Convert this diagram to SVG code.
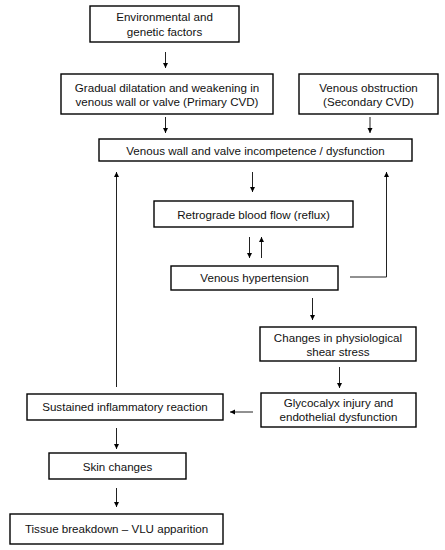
<svg xmlns="http://www.w3.org/2000/svg" width="445" height="550" viewBox="0 0 445 550">
<style>
.box{fill:#fff;stroke:#000;stroke-width:1.4}
.t{font-family:"Liberation Sans",Arial,sans-serif;font-size:11.6px;fill:#111;text-anchor:middle}
.c{fill:none;stroke:#222;stroke-width:1}
</style>
<defs>
<marker id="ah" viewBox="0 0 10 10" refX="10" refY="5" markerWidth="5" markerHeight="7" orient="auto" markerUnits="userSpaceOnUse">
<path d="M0,0 L10,5 L0,10 z" fill="#000"/>
</marker>
</defs>
<rect width="445" height="550" fill="#fff"/>
<g id="connectors">
<line class="c" x1="165.5" y1="52" x2="165.5" y2="68" marker-end="url(#ah)"/>
<line class="c" x1="165.5" y1="117" x2="165.5" y2="133" marker-end="url(#ah)"/>
<line class="c" x1="370" y1="117" x2="370" y2="133" marker-end="url(#ah)"/>
<line class="c" x1="252.5" y1="172" x2="252.5" y2="192" marker-end="url(#ah)"/>
<line class="c" x1="249.5" y1="237" x2="249.5" y2="258" marker-end="url(#ah)"/>
<line class="c" x1="261.5" y1="258" x2="261.5" y2="237" marker-end="url(#ah)"/>
<polyline class="c" points="350,277 386.5,277 386.5,172" marker-end="url(#ah)"/>
<line class="c" x1="116.5" y1="387" x2="116.5" y2="172" marker-end="url(#ah)"/>
<line class="c" x1="312.5" y1="298" x2="312.5" y2="320" marker-end="url(#ah)"/>
<line class="c" x1="339.5" y1="367" x2="339.5" y2="388" marker-end="url(#ah)"/>
<line class="c" x1="253" y1="412" x2="230" y2="412" marker-end="url(#ah)"/>
<line class="c" x1="116.5" y1="428" x2="116.5" y2="449" marker-end="url(#ah)"/>
<line class="c" x1="116.5" y1="488" x2="116.5" y2="507" marker-end="url(#ah)"/>
</g>
<g id="n1"><rect class="box" x="90" y="6" width="149" height="36"/><text class="t" x="164.5" y="21">Environmental and</text><text class="t" x="164.5" y="36">genetic factors</text></g>
<g id="n2"><rect class="box" x="61" y="74" width="212" height="40"/><text class="t" x="167" y="92">Gradual dilatation and weakening in</text><text class="t" x="167" y="106">venous wall or valve (Primary CVD)</text></g>
<g id="n3"><rect class="box" x="299" y="74" width="139" height="40"/><text class="t" x="368.5" y="92">Venous obstruction</text><text class="t" x="368.5" y="106">(Secondary CVD)</text></g>
<g id="n4"><rect class="box" x="99" y="139" width="313" height="22"/><text class="t" x="255.5" y="154.5">Venous wall and valve incompetence / dysfunction</text></g>
<g id="n5"><rect class="box" x="154" y="201" width="199" height="26"/><text class="t" x="253.5" y="218.5">Retrograde blood flow (reflux)</text></g>
<g id="n6"><rect class="box" x="171" y="266" width="167" height="24"/><text class="t" x="254.5" y="282">Venous hypertension</text></g>
<g id="n7"><rect class="box" x="260" y="327" width="156" height="34"/><text class="t" x="338" y="342">Changes in physiological</text><text class="t" x="338" y="356">shear stress</text></g>
<g id="n8"><rect class="box" x="261" y="393" width="155" height="34"/><text class="t" x="338.5" y="407">Glycocalyx injury and</text><text class="t" x="338.5" y="421">endothelial dysfunction</text></g>
<g id="n9"><rect class="box" x="27" y="394" width="196" height="26"/><text class="t" x="125" y="411">Sustained inflammatory reaction</text></g>
<g id="n10"><rect class="box" x="49" y="453" width="137" height="26"/><text class="t" x="117.5" y="470.5">Skin changes</text></g>
<g id="n11"><rect class="box" x="10" y="514" width="213" height="30"/><text class="t" x="116.5" y="533">Tissue breakdown – VLU apparition</text></g>
</svg>
